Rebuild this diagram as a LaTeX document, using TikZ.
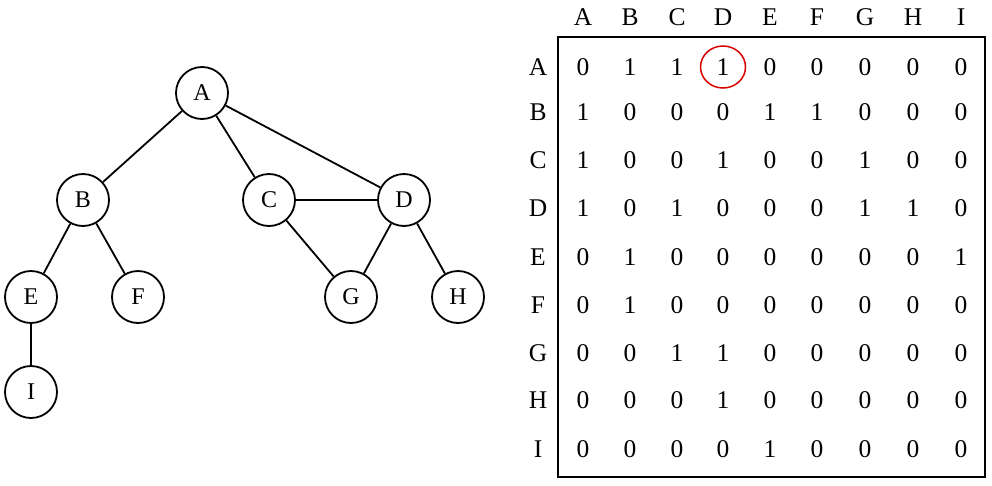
\documentclass[tikz,border=0pt]{standalone}
\usepackage{fontspec}
\setmainfont{Liberation Serif}
\usetikzlibrary{shapes.geometric}
\begin{document}
\begin{tikzpicture}[x=1pt,y=-1pt,
  vert/.style={draw,circle,line width=1.8pt,minimum size=52pt,inner sep=0pt,font=\fontsize{24}{26}\selectfont},
  edge/.style={line width=1.8pt},
  cell/.style={inner sep=0pt,font=\fontsize{25.5}{28}\selectfont},
  hilite/.style={draw=red!85!black,line width=1.5pt,ellipse,minimum width=45pt,minimum height=42pt,inner sep=0pt}]
\useasboundingbox (0,0) rectangle (992,485);
% graph
\node[vert] (A) at (202,93) {A};
\node[vert] (B) at (83,200) {B};
\node[vert] (C) at (269,200) {C};
\node[vert] (D) at (404,200) {D};
\node[vert] (E) at (31,297) {E};
\node[vert] (F) at (138,297) {F};
\node[vert] (G) at (351,297) {G};
\node[vert] (H) at (458,297) {H};
\node[vert] (I) at (31,392) {I};
\draw[edge] (A) -- (B);
\draw[edge] (A) -- (C);
\draw[edge] (A) -- (D);
\draw[edge] (C) -- (D);
\draw[edge] (B) -- (E);
\draw[edge] (B) -- (F);
\draw[edge] (C) -- (G);
\draw[edge] (D) -- (G);
\draw[edge] (D) -- (H);
\draw[edge] (E) -- (I);
% matrix
\node[draw,line width=1.8pt,minimum width=427pt,minimum height=440pt,inner sep=0pt] (box) at (771.5,257) {};
\def\colx{{583,630,677,723,770,817,865,913,961}}
\def\rowy{{67,112,160,208,257,305,353,400,449}}
\foreach \l [count=\i from 0] in {A,B,C,D,E,F,G,H,I}{
  \pgfmathsetmacro{\cx}{\colx[\i]}
  \pgfmathsetmacro{\ry}{\rowy[\i]}
  \node[cell] (col\l) at (\cx,17) {\l};
  \node[cell] (row\l) at (538,\ry) {\l};
}
\foreach \r/\vals [count=\j from 0] in {A/{0,1,1,1,0,0,0,0,0},B/{1,0,0,0,1,1,0,0,0},C/{1,0,0,1,0,0,1,0,0},D/{1,0,1,0,0,0,1,1,0},E/{0,1,0,0,0,0,0,0,1},F/{0,1,0,0,0,0,0,0,0},G/{0,0,1,1,0,0,0,0,0},H/{0,0,0,1,0,0,0,0,0},I/{0,0,0,0,1,0,0,0,0}}{
  \pgfmathsetmacro{\ry}{\rowy[\j]}
  \foreach \v [count=\i from 0] in \vals {
    \pgfmathsetmacro{\cx}{\colx[\i]}
    \node[cell] (m\r\i) at (\cx,\ry) {\v};
  }
}
\node[hilite] (mark) at (mA3) {};
\end{tikzpicture}
\end{document}
